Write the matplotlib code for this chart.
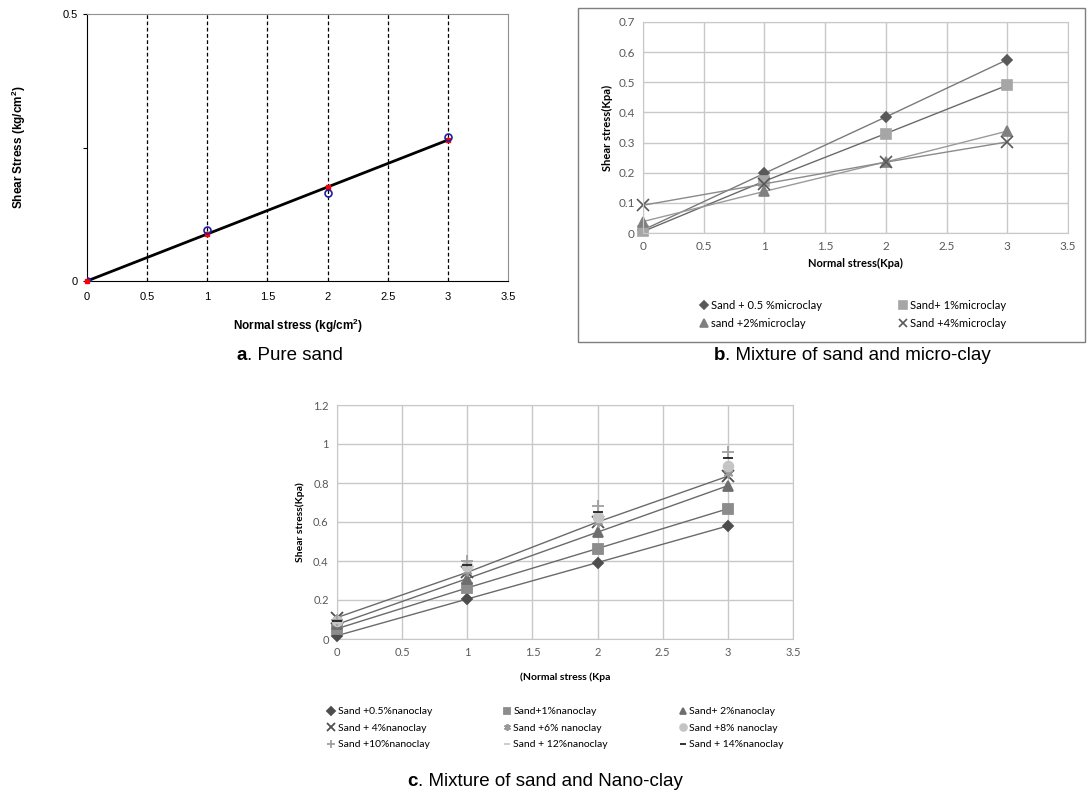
import numpy as np
import matplotlib
matplotlib.use('Agg')
import matplotlib.pyplot as plt
from matplotlib.patches import Rectangle
from matplotlib.offsetbox import TextArea, HPacker, AnnotationBbox

plt.rcParams['mathtext.default'] = 'regular'

# ---- panel a: pure sand ----
a_x = [0, 1, 2, 3]
a_measured = [0.0, 0.095, 0.165, 0.27]
a_fit = [0.0, 0.088, 0.176, 0.264]

# ---- panel b: sand + micro-clay ----
b_x = [0, 1, 2, 3]
b_labels = ['Sand + 0.5 %microclay', 'Sand+ 1%microclay', 'sand +2%microclay', 'Sand +4%microclay']
b_05 = [0.01, 0.198, 0.385, 0.575]
b_1 = [0.005, 0.172, 0.33, 0.49]
b_2 = [0.038, 0.138, 0.236, 0.338]
b_4 = [0.092, 0.163, 0.235, 0.302]

# ---- panel c: sand + nano-clay ----
c_x = [0, 1, 2, 3]
c_labels = ['Sand +0.5%nanoclay', 'Sand+1%nanoclay', 'Sand+ 2%nanoclay',
            'Sand + 4%nanoclay', 'Sand +6% nanoclay', 'Sand +8% nanoclay',
            'Sand +10%nanoclay', 'Sand + 12%nanoclay', 'Sand + 14%nanoclay']
c_05 = [0.017, 0.205, 0.392, 0.58]
c_1 = [0.053, 0.262, 0.464, 0.668]
c_2 = [0.075, 0.31, 0.548, 0.786]
c_4 = [0.11, 0.342, 0.6, 0.835]
c_6 = [0.1, 0.35, 0.6, 0.85]
c_8 = [0.09, 0.375, 0.625, 0.885]
c_10 = [0.1, 0.4, 0.68, 0.96]
c_12 = [0.08, 0.38, 0.64, 0.9]
c_14 = [0.09, 0.38, 0.652, 0.93]

fig = plt.figure(figsize=(10.88, 7.98), dpi=100)
W, H = 1088, 798


def rect(x0, x1, y0, y1):
    return [x0 / W, 1 - y1 / H, (x1 - x0) / W, (y1 - y0) / H]


def caption(x, y, letter, rest):
    box = HPacker(children=[
        TextArea(letter, textprops=dict(family='Liberation Sans', fontsize=13.5, weight='bold')),
        TextArea(rest, textprops=dict(family='Liberation Sans', fontsize=13.5))],
        align='baseline', pad=0, sep=0)
    ab = AnnotationBbox(box, (x, y), xycoords='figure fraction', frameon=False,
                        box_alignment=(0.5, 0.5))
    fig.add_artist(ab)


# ---------- a ----------
ax = fig.add_axes(rect(87, 508, 14, 281))
for v in [0.5, 1, 1.5, 2, 2.5, 3]:
    ax.axvline(v, color='black', ls=(0, (3, 2)), lw=0.9, zorder=1)
ax.plot(a_x, a_fit, color='black', lw=2, zorder=2)
ax.plot(a_x, a_fit, 's', color='red', ms=2.5, zorder=3, clip_on=False)
ax.plot(a_x, a_measured, 'o', mfc='none', mec='#1f1fa0', ms=5, mew=1.2, zorder=4)
ax.set_xlim(0, 3.5)
ax.set_ylim(0, 0.5)
ax.set_xticks(np.arange(0, 3.51, 0.5))
ax.set_xticklabels(['0', '0.5', '1', '1.5', '2', '2.5', '3', '3.5'])
ax.set_yticks([0, 0.25, 0.5])
ax.set_yticklabels(['0', '', '0.5'])
ax.tick_params(axis='x', length=0, pad=8, labelsize=8)
ax.tick_params(axis='y', length=3, labelsize=8)
for lab in ax.get_xticklabels() + ax.get_yticklabels():
    lab.set_family('Liberation Sans')
for s in ['top', 'right']:
    ax.spines[s].set_color('#909090')
ax.set_xlabel('Normal stress (kg/cm$^2$)', family='Liberation Sans', fontsize=8.5,
              weight='bold')
ax.set_ylabel('Shear Stress (kg/cm$^2$)', family='Liberation Sans', fontsize=8.5,
              weight='bold')
ax.xaxis.set_label_coords(0.5, -0.135)
ax.yaxis.set_label_coords(-0.14, 0.5)

# ---------- b ----------
fig.add_artist(Rectangle((578 / W, 1 - 342 / H), (1085 - 578) / W, (342 - 8) / H,
                         transform=fig.transFigure, fill=False, ec='#7f7f7f', lw=1))
bx = fig.add_axes(rect(643, 1068, 22, 233))
bx.grid(True, color='#c8c8c8', lw=1)
bx.set_axisbelow(True)
b_series = [b_05, b_1, b_2, b_4]
b_marks = [('D', '#595959', 5.5), ('s', '#a6a6a6', 7), ('^', '#808080', 7), ('x', '#595959', 8)]
b_lines = ['#7a7a7a', '#6a6a6a', '#9a9a9a', '#8a8a8a']
handles = []
for ys, (m, c, s), lc, lab in zip(b_series, b_marks, b_lines, b_labels):
    bx.plot(b_x, ys, color=lc, lw=1)
    h, = bx.plot(b_x, ys, ls='none', marker=m, color=c, ms=s, mew=1.2, label=lab,
                 clip_on=False)
    handles.append(h)
bx.set_xlim(0, 3.5)
bx.set_ylim(0, 0.7)
bx.set_xticks(np.arange(0, 3.51, 0.5))
bx.set_xticklabels(['0', '0.5', '1', '1.5', '2', '2.5', '3', '3.5'])
bx.set_yticks(np.arange(0, 0.71, 0.1))
bx.set_yticklabels(['0', '0.1', '0.2', '0.3', '0.4', '0.5', '0.6', '0.7'])
bx.tick_params(length=0, labelsize=8.5, labelcolor='#595959', pad=6)
for lab in bx.get_xticklabels() + bx.get_yticklabels():
    lab.set_family('Lato')
for s in bx.spines.values():
    s.set_color('#c8c8c8')
bx.set_xlabel('Normal stress(Kpa)', family='Lato', fontsize=8, weight='bold', labelpad=4)
bx.set_ylabel('Shear stress(Kpa)', family='Lato', fontsize=8, weight='bold', labelpad=4)
order = [0, 2, 1, 3]
bx.legend([handles[i] for i in order], [b_labels[i] for i in order], ncol=2,
          loc='upper center', bbox_to_anchor=(0.495, -0.27), frameon=False,
          prop=dict(family='Lato', size=8), handlelength=0.6, handletextpad=0.3,
          columnspacing=7, labelspacing=0.6, markerscale=0.75)

# ---------- c ----------
cx = fig.add_axes(rect(337, 793, 405, 639))
cx.grid(True, color='#c8c8c8', lw=1)
cx.set_axisbelow(True)
c_series = [c_05, c_1, c_2, c_4, c_6, c_8, c_10, c_12, c_14]
c_marks = [('D', '#4d4d4d', 5.5), ('s', '#8c8c8c', 7), ('^', '#6e6e6e', 7),
           ('x', '#505050', 8), ((6, 2, 0), '#9a9a9a', 7), ('o', '#c4c4c4', 7),
           ('+', '#a0a0a0', 9), ('_', '#c8c8c8', 6), ('_', '#222222', 7)]
c_fit_lines = [c_05, c_1, c_2, c_4]
for ys in c_fit_lines:
    cx.plot(c_x, ys, color='#6a6a6a', lw=1, zorder=2)
handles = []
for ys, (m, c, s), lab in zip(c_series, c_marks, c_labels):
    h, = cx.plot(c_x, ys, ls='none', marker=m, color=c, ms=s, mew=1.3, label=lab,
                 zorder=3, clip_on=False)
    handles.append(h)
cx.set_xlim(0, 3.5)
cx.set_ylim(0, 1.2)
cx.set_xticks(np.arange(0, 3.51, 0.5))
cx.set_xticklabels(['0', '0.5', '1', '1.5', '2', '2.5', '3', '3.5'])
cx.set_yticks(np.arange(0, 1.21, 0.2))
cx.set_yticklabels(['0', '0.2', '0.4', '0.6', '0.8', '1', '1.2'])
cx.tick_params(length=0, labelsize=8, labelcolor='#595959', pad=6)
for lab in cx.get_xticklabels() + cx.get_yticklabels():
    lab.set_family('Lato')
for s in cx.spines.values():
    s.set_color('#c8c8c8')
cx.set_xlabel('(Normal stress (Kpa', family='Lato', fontsize=7.5, weight='bold', labelpad=10)
cx.set_ylabel('Shear stress(Kpa)', family='Lato', fontsize=7.5, weight='bold', labelpad=6)
order = [0, 3, 6, 1, 4, 7, 2, 5, 8]
cx.legend([handles[i] for i in order], [c_labels[i] for i in order], ncol=3,
          loc='upper center', bbox_to_anchor=(0.48, -0.25), frameon=False,
          prop=dict(family='Lato', size=7.5), handlelength=0.6, handletextpad=0.3,
          columnspacing=6.9, labelspacing=0.7, markerscale=0.7)

caption(290 / W, 1 - 356 / H, 'a', '. Pure sand')
caption(852 / W, 1 - 356 / H, 'b', '. Mixture of sand and micro-clay')
caption(545 / W, 1 - 781 / H, 'c', '. Mixture of sand and Nano-clay')

fig.savefig('out.png', dpi=100)
